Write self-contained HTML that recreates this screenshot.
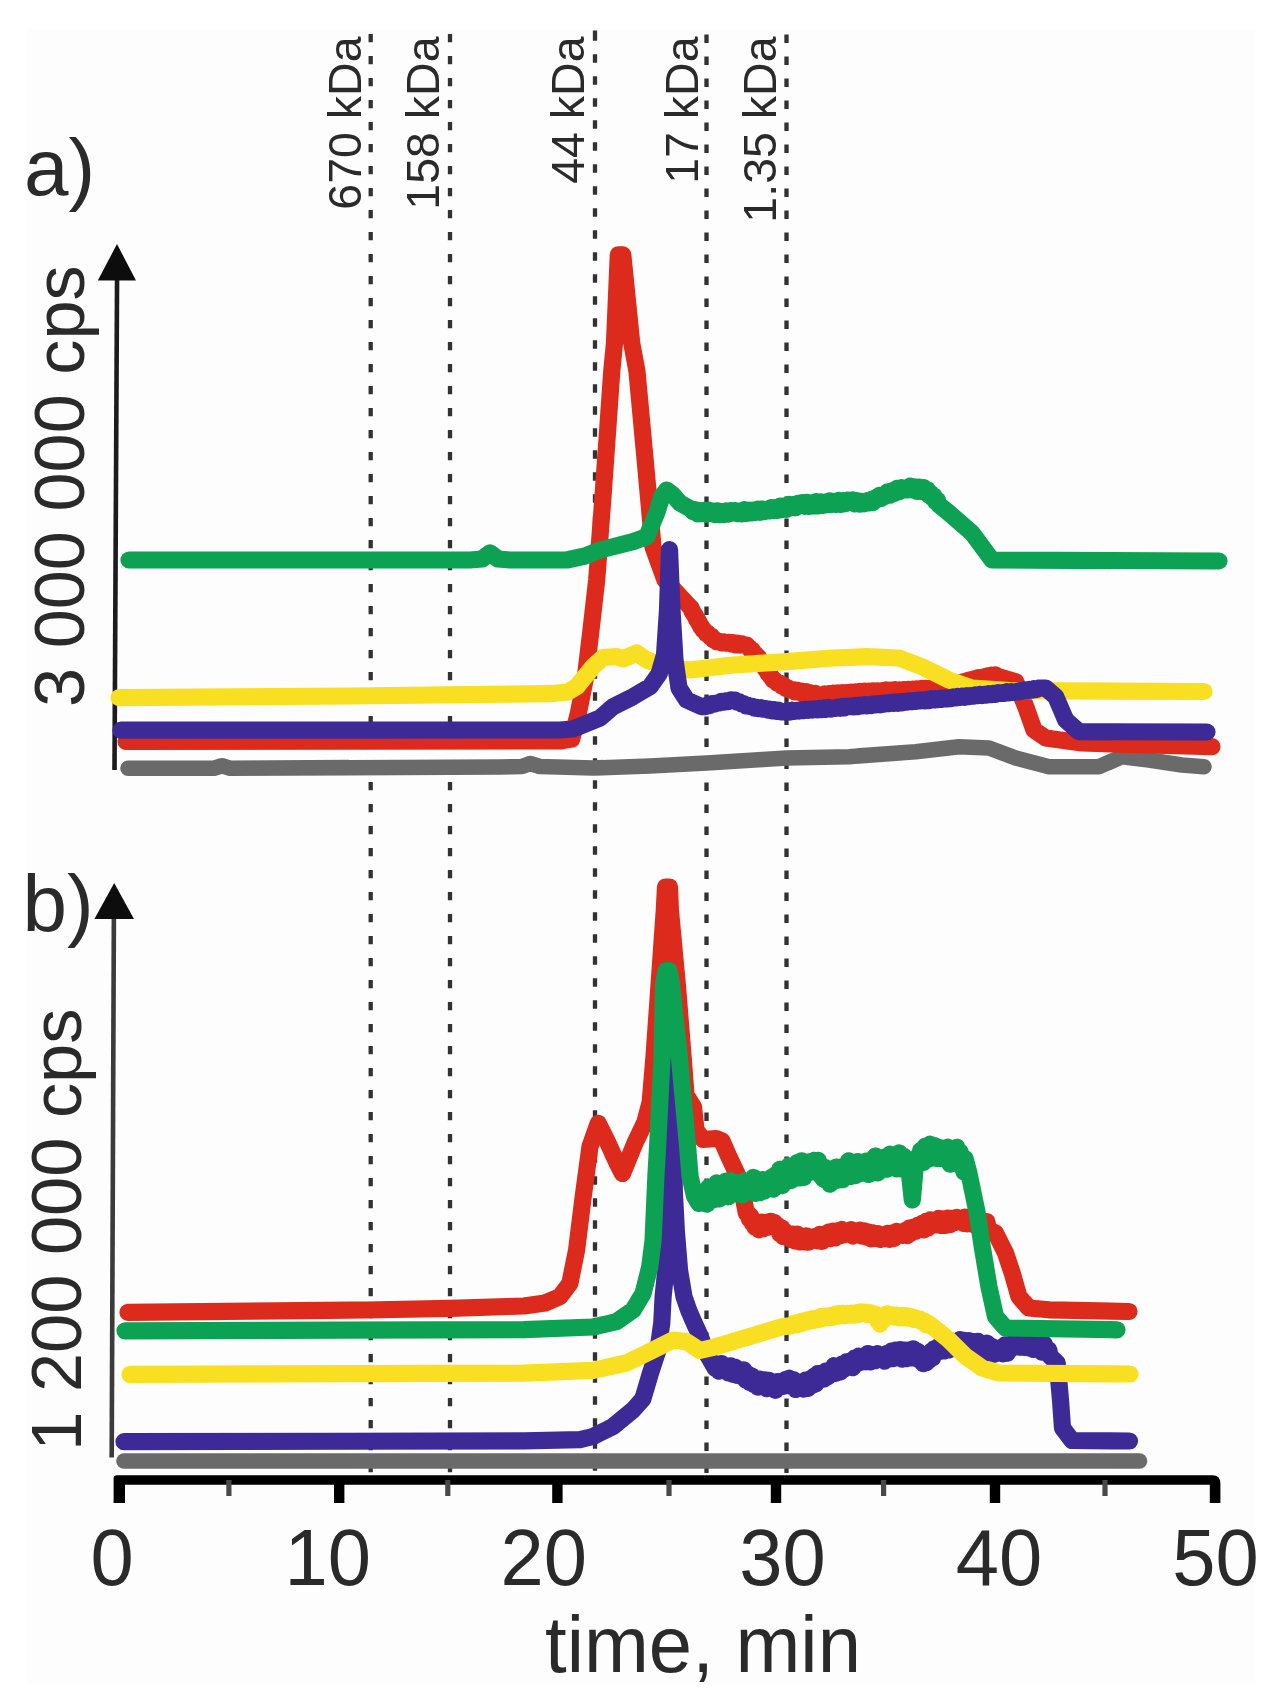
<!DOCTYPE html>
<html lang="en"><head><meta charset="utf-8"><title>SEC chromatograms</title>
<style>html,body{margin:0;padding:0;background:#fff}body{width:1273px;height:1695px;overflow:hidden}svg{display:block}</style>
</head><body>
<svg width="1273" height="1695" viewBox="0 0 1273 1695">
<rect width="1273" height="1695" fill="#fff"/>
<defs><filter id="soft" x="0" y="0" width="1273" height="1695" filterUnits="userSpaceOnUse"><feGaussianBlur stdDeviation="0.75"/></filter><clipPath id="crop"><rect x="27" y="29" width="1228.3" height="1654.5"/></clipPath></defs>
<rect x="27" y="29" width="1228.3" height="1654.5" fill="#fdfdfd"/>
<g id="figure" filter="url(#soft)">
<g id="dots"><path d="M370.7 33.9V42.3M370.7 55.9V64.3M370.7 77.9V86.3M370.7 99.9V108.3M370.7 121.9V130.3M370.7 143.9V152.3M370.7 165.9V174.3M370.7 187.9V196.3M370.7 209.9V218.3M370.7 231.9V240.3M370.7 253.9V262.3M370.7 275.9V284.3M370.7 297.9V306.3M370.7 319.9V328.3M370.7 341.9V350.3M370.7 363.9V372.3M370.7 385.9V394.3M370.7 407.9V416.3M370.7 429.9V438.3M370.7 451.9V460.3M370.7 473.9V482.3M370.7 495.9V504.3M370.7 517.9V526.3M370.7 539.9V548.3M370.7 561.9V570.3M370.7 583.9V592.3M370.7 605.9V614.3M370.7 627.9V636.3M370.7 649.9V658.3M370.7 671.9V680.3M370.7 693.9V702.3M370.7 715.9V724.3M370.7 737.9V746.3M370.7 759.9V768.3M370.7 781.9V790.3M370.7 803.9V812.3M370.7 825.9V834.3M370.7 847.9V856.3M370.7 869.9V878.3M370.7 891.9V900.3M370.7 913.9V922.3M370.7 935.9V944.3M370.7 957.9V966.3M370.7 979.9V988.3M370.7 1001.9V1010.3M370.7 1023.9V1032.3M370.7 1045.9V1054.3M370.7 1067.9V1076.3M370.7 1089.9V1098.3M370.7 1111.9V1120.3M370.7 1133.9V1142.3M370.7 1155.9V1164.3M370.7 1177.9V1186.3M370.7 1199.9V1208.3M370.7 1221.9V1230.3M370.7 1243.9V1252.3M370.7 1265.9V1274.3M370.7 1287.9V1296.3M370.7 1309.9V1318.3M370.7 1331.9V1340.3M370.7 1353.9V1362.3M370.7 1375.9V1384.3M370.7 1397.9V1406.3M370.7 1419.9V1428.3M370.7 1441.9V1450.3M370.7 1463.9V1472.3" stroke="#333" stroke-width="4.3" fill="none"/><path d="M450 33.9V42.3M450 55.9V64.3M450 77.9V86.3M450 99.9V108.3M450 121.9V130.3M450 143.9V152.3M450 165.9V174.3M450 187.9V196.3M450 209.9V218.3M450 231.9V240.3M450 253.9V262.3M450 275.9V284.3M450 297.9V306.3M450 319.9V328.3M450 341.9V350.3M450 363.9V372.3M450 385.9V394.3M450 407.9V416.3M450 429.9V438.3M450 451.9V460.3M450 473.9V482.3M450 495.9V504.3M450 517.9V526.3M450 539.9V548.3M450 561.9V570.3M450 583.9V592.3M450 605.9V614.3M450 627.9V636.3M450 649.9V658.3M450 671.9V680.3M450 693.9V702.3M450 715.9V724.3M450 737.9V746.3M450 759.9V768.3M450 781.9V790.3M450 803.9V812.3M450 825.9V834.3M450 847.9V856.3M450 869.9V878.3M450 891.9V900.3M450 913.9V922.3M450 935.9V944.3M450 957.9V966.3M450 979.9V988.3M450 1001.9V1010.3M450 1023.9V1032.3M450 1045.9V1054.3M450 1067.9V1076.3M450 1089.9V1098.3M450 1111.9V1120.3M450 1133.9V1142.3M450 1155.9V1164.3M450 1177.9V1186.3M450 1199.9V1208.3M450 1221.9V1230.3M450 1243.9V1252.3M450 1265.9V1274.3M450 1287.9V1296.3M450 1309.9V1318.3M450 1331.9V1340.3M450 1353.9V1362.3M450 1375.9V1384.3M450 1397.9V1406.3M450 1419.9V1428.3M450 1441.9V1450.3M450 1463.9V1472.3" stroke="#333" stroke-width="4.3" fill="none"/><path d="M595 30.6V40.7M595 54.3V62.7M595 76.3V84.7M595 98.3V106.7M595 120.3V128.7M595 142.3V150.7M595 164.3V172.7M595 186.3V194.7M595 208.3V216.7M595 230.3V238.7M595 252.3V260.7M595 274.3V282.7M595 296.3V304.7M595 318.3V326.7M595 340.3V348.7M595 362.3V370.7M595 384.3V392.7M595 406.3V414.7M595 428.3V436.7M595 450.3V458.7M595 472.3V480.7M595 494.3V502.7M595 516.3V524.7M595 538.3V546.7M595 560.3V568.7M595 582.3V590.7M595 604.3V612.7M595 626.3V634.7M595 648.3V656.7M595 670.3V678.7M595 692.3V700.7M595 714.3V722.7M595 736.3V744.7M595 758.3V766.7M595 780.3V788.7M595 802.3V810.7M595 824.3V832.7M595 846.3V854.7M595 868.3V876.7M595 890.3V898.7M595 912.3V920.7M595 934.3V942.7M595 956.3V964.7M595 978.3V986.7M595 1000.3V1008.7M595 1022.3V1030.7M595 1044.3V1052.7M595 1066.3V1074.7M595 1088.3V1096.7M595 1110.3V1118.7M595 1132.3V1140.7M595 1154.3V1162.7M595 1176.3V1184.7M595 1198.3V1206.7M595 1220.3V1228.7M595 1242.3V1250.7M595 1264.3V1272.7M595 1286.3V1294.7M595 1308.3V1316.7M595 1330.3V1338.7M595 1352.3V1360.7M595 1374.3V1382.7M595 1396.3V1404.7M595 1418.3V1426.7M595 1440.3V1448.7M595 1462.3V1470.7" stroke="#333" stroke-width="4.3" fill="none"/><path d="M706.5 34.6V43.0M706.5 56.6V65.0M706.5 78.6V87.0M706.5 100.6V109.0M706.5 122.6V131.0M706.5 144.6V153.0M706.5 166.6V175.0M706.5 188.6V197.0M706.5 210.6V219.0M706.5 232.6V241.0M706.5 254.6V263.0M706.5 276.6V285.0M706.5 298.6V307.0M706.5 320.6V329.0M706.5 342.6V351.0M706.5 364.6V373.0M706.5 386.6V395.0M706.5 408.6V417.0M706.5 430.6V439.0M706.5 452.6V461.0M706.5 474.6V483.0M706.5 496.6V505.0M706.5 518.6V527.0M706.5 540.6V549.0M706.5 562.6V571.0M706.5 584.6V593.0M706.5 606.6V615.0M706.5 628.6V637.0M706.5 650.6V659.0M706.5 672.6V681.0M706.5 694.6V703.0M706.5 716.6V725.0M706.5 738.6V747.0M706.5 760.6V769.0M706.5 782.6V791.0M706.5 804.6V813.0M706.5 826.6V835.0M706.5 848.6V857.0M706.5 870.6V879.0M706.5 892.6V901.0M706.5 914.6V923.0M706.5 936.6V945.0M706.5 958.6V967.0M706.5 980.6V989.0M706.5 1002.6V1011.0M706.5 1024.6V1033.0M706.5 1046.6V1055.0M706.5 1068.6V1077.0M706.5 1090.6V1099.0M706.5 1112.6V1121.0M706.5 1134.6V1143.0M706.5 1156.6V1165.0M706.5 1178.6V1187.0M706.5 1200.6V1209.0M706.5 1222.6V1231.0M706.5 1244.6V1253.0M706.5 1266.6V1275.0M706.5 1288.6V1297.0M706.5 1310.6V1319.0M706.5 1332.6V1341.0M706.5 1354.6V1363.0M706.5 1376.6V1385.0M706.5 1398.6V1407.0M706.5 1420.6V1429.0M706.5 1442.6V1451.0M706.5 1464.6V1473.0" stroke="#333" stroke-width="4.3" fill="none"/><path d="M786.5 34.6V43.0M786.5 56.6V65.0M786.5 78.6V87.0M786.5 100.6V109.0M786.5 122.6V131.0M786.5 144.6V153.0M786.5 166.6V175.0M786.5 188.6V197.0M786.5 210.6V219.0M786.5 232.6V241.0M786.5 254.6V263.0M786.5 276.6V285.0M786.5 298.6V307.0M786.5 320.6V329.0M786.5 342.6V351.0M786.5 364.6V373.0M786.5 386.6V395.0M786.5 408.6V417.0M786.5 430.6V439.0M786.5 452.6V461.0M786.5 474.6V483.0M786.5 496.6V505.0M786.5 518.6V527.0M786.5 540.6V549.0M786.5 562.6V571.0M786.5 584.6V593.0M786.5 606.6V615.0M786.5 628.6V637.0M786.5 650.6V659.0M786.5 672.6V681.0M786.5 694.6V703.0M786.5 716.6V725.0M786.5 738.6V747.0M786.5 760.6V769.0M786.5 782.6V791.0M786.5 804.6V813.0M786.5 826.6V835.0M786.5 848.6V857.0M786.5 870.6V879.0M786.5 892.6V901.0M786.5 914.6V923.0M786.5 936.6V945.0M786.5 958.6V967.0M786.5 980.6V989.0M786.5 1002.6V1011.0M786.5 1024.6V1033.0M786.5 1046.6V1055.0M786.5 1068.6V1077.0M786.5 1090.6V1099.0M786.5 1112.6V1121.0M786.5 1134.6V1143.0M786.5 1156.6V1165.0M786.5 1178.6V1187.0M786.5 1200.6V1209.0M786.5 1222.6V1231.0M786.5 1244.6V1253.0M786.5 1266.6V1275.0M786.5 1288.6V1297.0M786.5 1310.6V1319.0M786.5 1332.6V1341.0M786.5 1354.6V1363.0M786.5 1376.6V1385.0M786.5 1398.6V1407.0M786.5 1420.6V1429.0M786.5 1442.6V1451.0M786.5 1464.6V1473.0" stroke="#333" stroke-width="4.3" fill="none"/></g>
<g id="panel-a">
<line x1="117.1" y1="270" x2="114.5" y2="770" stroke="#1c1c1c" stroke-width="4.6"/>
<polygon points="117,244 97.8,280.5 136,280.5" fill="#111"/>
<polyline points="128.0,768.3 214.0,768.3 222.0,765.8 230.0,768.2 500.0,767.0 522.0,766.5 530.0,763.5 540.0,766.5 593.0,768.0 650.0,766.0 706.7,763.0 786.7,758.0 849.0,756.7 915.7,751.7 959.0,746.7 989.0,748.0 1015.7,758.0 1049.0,766.7 1099.0,766.7 1122.0,756.7 1149.0,760.0 1182.0,765.0 1204.0,766.7" fill="none" stroke="#6b6b6b" stroke-width="15.6" stroke-linecap="round" stroke-linejoin="round"/>
<polyline points="126.0,741.5 560.0,741.0 571.7,739.0 578.0,715.0 585.0,680.0 591.0,630.0 596.7,580.0 603.0,496.5 611.8,370.8 614.5,343.0 618.3,254.8 622.8,254.8 631.7,343.0 636.9,370.8 646.2,471.4 653.0,547.0 665.0,580.0 690.0,607.0 691.1,607.9 692.2,611.8 693.2,612.3 694.3,615.2 695.4,615.7 696.5,619.4 697.6,619.6 698.7,623.0 699.8,623.5 700.8,627.0 701.9,627.3 703.0,630.0 704.7,630.9 706.4,633.6 708.1,633.7 709.9,636.7 711.6,636.3 713.3,639.7 715.0,639.5 716.7,641.7 719.0,641.3 721.3,642.8 723.6,642.0 725.9,643.2 728.2,642.3 730.5,643.8 732.9,642.8 735.2,644.7 737.5,643.2 739.8,645.0 742.1,643.9 744.4,645.2 746.7,645.0 748.2,647.3 749.7,647.8 751.1,650.7 752.6,650.7 754.1,654.2 755.6,654.4 757.0,657.6 758.5,657.4 760.0,660.0 761.3,661.1 762.6,664.9 763.9,665.1 765.2,668.9 766.5,669.4 767.8,673.0 769.1,673.0 770.4,676.5 771.7,677.1 773.0,680.0 775.1,680.4 777.2,683.2 779.4,683.0 781.5,685.7 783.6,685.3 785.8,688.2 787.9,687.8 790.0,690.0 792.3,689.7 794.6,691.7 796.9,690.2 799.2,692.2 801.5,691.2 803.8,693.3 806.2,691.8 808.5,693.8 810.8,692.9 813.1,694.5 815.4,693.4 817.7,695.2 820.0,695.0 822.2,695.8 824.5,694.1 826.7,695.5 828.9,693.8 831.2,695.2 833.4,693.2 835.6,694.7 837.8,693.0 840.1,694.4 842.3,692.7 844.5,693.9 846.8,692.6 849.0,693.0 851.2,692.2 853.4,693.7 855.6,691.9 857.8,693.0 860.0,691.5 862.2,693.2 864.4,691.3 866.6,692.6 868.8,691.1 871.0,692.3 873.2,690.9 875.4,692.2 877.6,690.9 879.8,692.3 882.0,690.8 884.2,691.9 886.4,690.1 888.6,691.5 890.8,690.3 893.0,691.7 895.2,689.9 897.4,691.3 899.5,689.9 901.7,690.9 903.9,689.6 906.1,690.9 908.3,689.4 910.5,690.8 912.7,689.2 914.9,690.4 917.1,689.0 919.3,690.0 921.5,688.4 923.7,689.7 925.9,688.5 928.1,689.7 930.3,688.1 932.5,689.2 934.7,687.6 936.9,689.0 939.1,687.9 941.3,688.9 943.5,687.3 945.7,688.0 947.9,686.5 950.1,687.2 952.3,685.4 954.5,685.8 956.7,684.0 958.9,684.9 961.0,682.5 963.2,683.6 965.4,681.1 967.6,682.3 969.8,679.8 972.0,680.0 974.2,678.8 976.3,679.7 978.5,677.8 980.6,678.8 982.8,677.2 984.9,678.0 987.1,675.9 989.2,676.9 991.4,675.1 993.5,676.1 995.7,675.0 997.9,676.5 1015.7,681.7 1025.7,706.7 1034.0,730.0 1045.7,738.0 1082.0,743.0 1212.0,746.7" fill="none" stroke="#dc2a1e" stroke-width="17.2" stroke-linecap="round" stroke-linejoin="round"/>
<polyline points="129.0,560.0 470.0,560.0 482.0,559.0 490.0,553.0 498.0,559.0 510.0,560.0 566.7,560.0 585.0,556.0 600.0,550.0 633.0,541.7 646.7,536.7 656.7,513.0 662.0,496.0 666.7,490.0 672.0,494.0 680.0,503.0 691.1,509.2 693.0,511.7 695.2,509.6 697.4,513.9 699.7,510.5 701.9,513.7 704.1,510.4 706.3,514.1 708.6,510.1 710.8,513.5 713.0,511.2 715.2,514.6 717.4,510.8 719.7,514.7 721.9,511.6 724.1,514.4 726.3,510.8 728.6,514.2 730.8,510.6 733.0,513.0 735.2,510.5 737.5,513.7 739.7,511.3 742.0,514.0 744.2,509.7 746.5,513.4 748.7,510.2 751.0,513.0 753.2,510.1 755.5,512.4 757.7,509.1 760.0,512.3 762.2,509.0 764.5,511.6 766.7,510.0 768.9,511.0 771.1,507.6 773.4,510.5 775.6,507.6 777.8,510.5 780.0,506.2 782.2,509.6 784.5,506.0 786.7,509.4 788.9,504.5 791.1,507.6 793.3,504.5 795.6,507.7 797.8,503.3 800.0,505.0 802.3,502.5 804.5,506.3 806.8,502.4 809.1,506.4 811.4,502.8 813.6,506.0 815.9,501.7 818.2,506.0 820.5,501.9 822.7,505.4 825.0,502.2 827.3,504.6 829.5,500.9 831.8,504.5 834.1,501.4 836.4,504.4 838.6,500.4 840.9,504.3 843.2,500.6 845.5,503.7 847.7,500.1 850.0,501.7 852.4,499.8 854.8,503.8 857.1,500.6 859.5,504.1 861.9,501.4 864.2,503.8 866.6,500.8 869.0,503.0 871.0,499.5 873.0,502.6 875.0,498.0 877.0,499.7 879.0,495.5 881.0,498.5 883.0,495.0 885.3,496.4 887.5,491.8 889.8,495.1 892.1,490.8 894.4,493.3 896.6,488.5 898.9,491.9 901.2,487.7 903.4,490.1 905.7,488.0 907.9,490.0 910.1,486.1 912.4,489.8 914.6,486.8 916.8,491.3 919.0,487.1 921.3,491.6 923.5,487.6 925.7,490.0 927.4,489.9 929.0,495.1 930.7,493.3 932.4,497.7 934.0,496.0 935.7,501.7 937.4,500.2 939.0,504.9 949.0,513.0 972.0,533.0 992.0,560.0 1219.0,561.0" fill="none" stroke="#0ca152" stroke-width="17.2" stroke-linecap="round" stroke-linejoin="round"/>
<polyline points="119.0,697.6 350.0,696.0 550.0,693.7 568.0,692.0 576.7,686.7 593.0,666.7 603.0,657.5 616.7,656.7 623.0,659.0 636.7,653.0 646.7,660.0 670.0,668.0 690.0,670.0 733.0,665.0 786.7,661.7 833.0,658.0 866.7,656.7 899.0,658.0 922.0,666.7 949.0,680.0 972.0,688.0 1009.0,690.7 1204.0,691.5" fill="none" stroke="#f8df22" stroke-width="17.2" stroke-linecap="round" stroke-linejoin="round"/>
<polyline points="121.0,730.2 560.0,730.0 573.0,729.0 600.0,718.0 613.0,706.7 633.0,696.7 650.0,686.7 659.0,674.0 664.5,655.0 667.5,610.0 669.5,549.5 672.0,610.0 675.0,660.0 679.0,688.0 686.7,700.0 701.0,706.3 703.0,706.7 705.3,706.7 707.6,704.9 709.9,705.5 712.1,703.6 714.4,704.0 716.7,703.0 719.0,702.9 721.4,701.4 723.7,702.2 726.0,700.8 728.3,701.7 730.7,699.9 733.0,700.0 735.1,700.1 737.2,702.2 739.4,701.9 741.5,703.8 743.6,703.5 745.8,705.8 747.9,705.3 750.0,706.7 752.2,706.3 754.4,708.0 756.6,707.3 758.8,708.7 761.0,707.7 763.2,709.2 765.4,708.7 767.6,710.1 769.8,709.1 772.0,710.7 774.2,709.6 776.4,711.4 778.6,710.3 780.8,711.9 783.0,711.7 785.3,712.2 787.5,710.8 789.8,712.0 792.1,710.3 794.4,711.3 796.6,710.3 798.9,711.0 801.2,709.6 803.5,710.7 805.7,709.4 808.0,710.3 810.3,709.1 812.5,710.0 814.8,708.8 817.1,709.8 819.4,708.4 821.6,709.6 823.9,708.0 826.2,709.3 828.5,707.6 830.7,709.0 833.0,708.0 835.3,708.5 837.6,707.2 839.9,708.2 842.1,706.5 844.4,707.8 846.7,706.3 849.0,706.7 851.2,705.8 853.4,706.8 855.7,705.4 857.9,706.5 860.1,705.2 862.3,705.9 864.6,704.6 866.8,705.9 869.0,704.6 871.2,705.5 873.4,704.0 875.7,704.8 877.9,703.7 880.1,704.7 882.3,703.1 884.6,704.0 886.8,702.8 889.0,703.6 891.2,702.4 893.4,703.3 895.7,701.9 897.9,703.2 900.1,701.7 902.3,702.9 904.6,701.4 906.8,702.1 909.0,700.9 911.2,701.7 913.4,700.6 915.7,701.4 917.9,700.1 920.1,700.9 922.3,699.9 924.6,700.9 926.8,699.4 929.0,700.5 931.2,698.8 933.4,699.9 935.7,698.6 937.9,699.6 940.1,698.1 942.3,699.2 944.6,697.8 946.8,698.8 949.0,698.0 951.2,698.6 953.4,697.0 955.7,697.9 957.9,696.5 960.1,697.4 962.3,696.2 964.6,697.3 966.8,695.7 969.0,696.7 971.2,695.5 973.5,696.2 975.7,694.9 977.9,695.6 980.1,694.4 982.4,695.5 984.6,694.3 986.8,695.1 989.0,693.7 991.2,694.7 993.5,693.3 995.7,694.3 997.9,692.7 1000.1,693.5 1002.4,692.6 1004.6,693.4 1006.8,691.8 1009.0,692.8 1011.3,691.6 1013.5,692.5 1015.7,691.7 1018.0,691.9 1020.3,690.6 1022.6,691.3 1024.9,690.0 1027.2,690.9 1029.5,689.5 1031.9,690.2 1034.2,688.7 1036.5,689.5 1038.8,688.2 1045.7,688.0 1055.7,696.7 1065.7,720.0 1079.0,731.7 1207.0,732.0" fill="none" stroke="#3e2a97" stroke-width="17.2" stroke-linecap="round" stroke-linejoin="round"/>
</g>
<g id="panel-b">
<line x1="113.9" y1="910" x2="111.7" y2="1457.5" stroke="#3a3a3a" stroke-width="4.6"/>
<polygon points="114.2,883 94.4,919 134,919" fill="#111"/>
<polyline points="124.0,1461.0 1139.5,1461.0" fill="none" stroke="#6b6b6b" stroke-width="15.6" stroke-linecap="round" stroke-linejoin="round"/>
<polyline points="128.0,1312.3 366.0,1310.0 450.0,1308.3 524.0,1306.0 545.0,1303.0 559.9,1296.6 569.9,1283.3 576.6,1250.0 583.2,1196.6 590.0,1146.6 598.2,1123.3 606.6,1140.0 616.6,1162.0 622.5,1173.5 635.0,1143.0 645.0,1122.0 650.2,1102.0 653.9,1058.0 659.1,984.0 664.3,910.0 665.5,887.0 669.5,887.0 670.4,910.0 677.3,984.0 683.2,1058.0 686.0,1095.0 693.5,1107.0 696.0,1130.0 703.0,1139.5 716.0,1138.5 722.0,1141.0 728.1,1155.0 739.8,1180.0 746.4,1213.2 747.8,1212.8 749.3,1219.0 750.7,1216.2 752.1,1222.9 753.5,1220.8 755.0,1227.3 756.4,1226.5 758.8,1229.8 761.2,1222.0 763.6,1228.6 765.9,1222.3 768.3,1227.1 770.7,1221.3 773.1,1223.2 774.8,1222.7 776.4,1228.6 778.1,1225.9 779.8,1233.7 781.4,1227.9 783.1,1236.7 784.7,1231.3 786.4,1236.5 788.6,1234.6 790.9,1239.5 793.1,1234.2 795.3,1241.0 797.5,1234.2 799.8,1241.9 802.0,1236.5 804.2,1241.9 806.4,1235.8 808.6,1242.2 810.9,1237.4 813.1,1239.9 815.3,1236.5 817.5,1240.8 819.8,1234.4 822.0,1241.4 824.2,1234.1 826.4,1239.0 828.6,1232.2 830.9,1238.5 833.1,1231.1 835.3,1238.0 837.5,1230.8 839.7,1235.9 842.0,1229.5 844.2,1234.8 846.4,1231.5 848.6,1234.0 850.9,1229.7 853.1,1236.0 855.4,1230.9 857.6,1235.0 859.9,1230.2 862.1,1236.1 864.3,1231.0 866.6,1237.1 868.8,1232.1 871.1,1238.9 873.3,1233.0 875.6,1238.3 877.8,1233.6 880.1,1239.4 882.3,1236.5 884.7,1238.7 887.1,1233.5 889.5,1239.3 891.8,1233.1 894.2,1238.5 896.6,1231.4 899.0,1235.0 901.1,1232.2 903.2,1235.4 905.2,1230.4 907.3,1235.5 909.4,1228.1 911.5,1232.8 913.6,1227.2 915.6,1231.2 917.7,1225.4 919.8,1229.4 921.9,1223.4 924.0,1229.8 926.1,1221.3 928.1,1227.9 930.2,1219.8 932.3,1223.0 934.5,1220.9 936.7,1224.9 938.9,1218.3 941.2,1225.5 943.4,1219.0 945.6,1225.4 947.8,1218.1 950.0,1224.6 952.2,1218.3 954.5,1222.7 956.7,1217.5 958.9,1220.0 961.1,1218.2 963.2,1223.3 965.4,1217.1 967.6,1223.9 969.8,1219.8 972.0,1223.9 974.1,1220.2 976.3,1226.2 978.5,1220.4 980.6,1225.8 982.8,1221.7 985.0,1224.0 986.8,1221.5 988.5,1229.7 995.5,1233.0 1005.5,1253.0 1012.2,1273.0 1018.9,1296.5 1028.9,1308.0 1048.8,1309.8 1129.0,1311.5" fill="none" stroke="#dc2a1e" stroke-width="17.2" stroke-linecap="round" stroke-linejoin="round"/>
<polyline points="124.0,1441.7 524.0,1440.9 580.0,1439.6 593.0,1436.5 613.0,1426.5 633.0,1410.0 642.8,1399.0 650.0,1374.7 658.0,1350.0 661.8,1322.7 663.1,1296.8 665.7,1270.8 667.0,1200.0 669.5,1062.0 671.5,1062.0 674.4,1193.0 676.4,1232.0 679.6,1270.8 684.0,1296.8 688.5,1309.8 694.0,1322.7 700.0,1335.7 706.4,1353.0 715.3,1368.6 716.8,1366.0 719.1,1371.1 721.4,1363.5 723.7,1370.6 726.0,1366.0 728.2,1372.9 730.5,1365.8 732.8,1374.3 735.1,1367.2 737.4,1375.4 739.7,1371.6 741.7,1376.0 743.7,1370.0 745.7,1380.1 747.7,1373.9 749.7,1382.5 751.7,1376.0 753.7,1384.4 755.7,1383.0 757.9,1387.1 760.1,1379.2 762.2,1386.9 764.4,1379.8 766.6,1388.7 768.8,1380.3 771.0,1388.4 773.2,1383.0 775.3,1390.3 777.5,1381.7 779.7,1386.5 781.5,1381.7 783.4,1386.3 785.2,1379.6 787.0,1381.0 789.1,1378.2 791.2,1386.4 793.4,1379.6 795.5,1389.5 797.6,1384.0 799.7,1388.0 801.7,1382.9 803.7,1389.1 805.7,1380.0 807.7,1388.5 809.7,1379.0 811.7,1385.6 813.7,1376.4 815.7,1383.9 817.7,1373.5 819.7,1379.7 821.7,1373.0 823.7,1379.1 825.7,1371.0 827.7,1376.9 829.7,1372.0 831.8,1373.7 833.9,1365.7 835.9,1373.3 838.0,1366.2 840.1,1372.0 842.2,1364.0 844.3,1369.1 846.4,1361.9 848.4,1367.3 850.5,1361.0 852.6,1367.7 854.7,1358.1 856.8,1363.7 858.8,1356.2 860.9,1362.1 863.0,1359.0 865.4,1361.8 867.8,1353.6 870.2,1362.0 872.6,1354.6 875.1,1360.7 877.5,1353.7 879.9,1359.3 882.3,1356.4 884.5,1361.2 886.7,1353.5 889.0,1359.1 891.2,1351.2 893.4,1358.6 895.6,1350.1 897.8,1357.7 900.1,1349.6 902.3,1359.1 904.5,1350.0 906.7,1358.6 908.9,1350.2 911.2,1358.0 913.4,1348.8 915.6,1353.0 917.5,1351.1 919.4,1360.1 921.2,1354.2 923.1,1363.6 925.0,1362.0 926.5,1362.7 928.0,1354.2 929.5,1359.8 931.1,1351.4 932.6,1357.7 934.1,1348.8 935.6,1349.8 937.8,1346.9 940.0,1351.3 942.2,1344.2 944.5,1350.8 946.7,1344.0 948.9,1349.9 951.1,1341.0 953.3,1348.2 955.6,1341.3 957.8,1348.8 960.0,1339.6 962.2,1343.0 964.4,1340.4 966.6,1347.3 968.9,1340.6 971.1,1347.2 973.3,1341.7 975.5,1348.4 977.8,1341.3 980.0,1349.3 982.2,1346.5 984.6,1351.3 987.0,1343.2 989.4,1353.6 991.7,1346.4 994.1,1354.3 996.5,1348.1 998.9,1352.0 1001.0,1347.8 1003.0,1353.8 1005.1,1344.9 1007.2,1353.2 1009.3,1344.5 1011.4,1348.9 1013.4,1342.2 1015.5,1344.8 1017.7,1342.4 1019.9,1347.1 1022.2,1340.4 1024.4,1347.4 1026.6,1340.6 1028.8,1348.0 1031.1,1340.0 1033.3,1349.4 1035.5,1344.8 1037.7,1348.1 1039.9,1343.7 1042.2,1352.2 1044.4,1344.2 1046.6,1352.4 1048.8,1349.8 1050.0,1356.1 1057.2,1363.0 1060.5,1400.0 1062.5,1428.0 1072.0,1440.5 1129.5,1441.0" fill="none" stroke="#3e2a97" stroke-width="17.2" stroke-linecap="round" stroke-linejoin="round"/>
<polyline points="125.0,1330.8 524.0,1329.6 593.2,1327.0 616.5,1321.6 633.1,1310.0 643.1,1293.3 649.8,1266.6 653.1,1240.0 655.9,1176.0 657.6,1146.5 662.0,1058.0 663.5,984.0 666.0,970.6 669.0,970.6 671.4,984.0 679.5,1058.0 687.6,1146.5 690.0,1176.0 694.5,1196.0 699.0,1203.5 705.0,1199.0 706.8,1204.1 708.5,1187.3 710.2,1201.0 712.0,1191.0 714.3,1199.5 716.7,1182.9 719.0,1199.0 721.3,1186.0 723.7,1196.3 726.0,1181.0 728.3,1196.8 730.7,1180.8 733.0,1193.7 735.3,1182.5 737.7,1194.0 740.0,1188.5 742.2,1194.8 744.4,1180.8 746.6,1191.4 748.8,1181.7 751.0,1191.9 753.2,1177.4 755.4,1193.4 757.6,1180.3 759.8,1192.7 762.0,1179.6 764.2,1191.0 766.4,1183.5 768.6,1187.3 770.8,1177.7 773.1,1189.2 775.3,1174.9 777.5,1184.2 779.7,1169.3 782.0,1185.6 784.2,1170.9 786.4,1175.5 788.5,1165.9 790.7,1180.6 792.8,1165.6 795.0,1177.3 797.1,1162.7 799.3,1178.0 801.4,1160.9 803.5,1177.4 805.7,1162.6 807.8,1173.1 810.0,1161.6 812.1,1170.4 814.3,1160.4 816.4,1164.0 818.1,1160.3 819.7,1174.7 821.4,1165.5 823.0,1178.8 824.7,1167.6 826.3,1180.7 828.0,1177.0 830.0,1184.2 832.1,1168.8 834.1,1179.9 836.2,1167.0 838.2,1180.1 840.3,1167.3 842.3,1179.7 844.4,1165.7 846.4,1169.0 848.6,1160.9 850.8,1176.6 853.1,1163.9 855.3,1175.6 857.5,1161.5 859.7,1173.9 861.9,1162.6 864.2,1170.6 866.4,1161.1 868.6,1174.4 870.8,1160.3 873.0,1172.8 875.3,1156.0 877.5,1173.0 879.7,1164.0 882.2,1169.3 884.7,1157.2 887.3,1169.2 889.8,1154.2 892.3,1161.6 894.5,1156.8 896.8,1168.9 899.0,1152.9 901.3,1169.0 903.5,1156.2 905.8,1169.0 908.0,1160.0 912.3,1200.0 916.0,1158.0 918.3,1161.6 920.7,1150.5 923.0,1162.5 925.3,1146.0 927.6,1159.4 930.0,1144.2 932.3,1152.0 934.5,1145.6 936.7,1158.4 938.9,1147.5 941.2,1158.5 943.4,1149.5 945.6,1159.1 947.8,1147.2 950.0,1164.1 952.2,1150.6 954.5,1160.1 956.7,1147.3 958.9,1156.6 960.1,1152.0 961.4,1166.8 962.6,1157.5 963.9,1171.8 965.1,1158.7 968.9,1173.0 977.2,1213.0 982.2,1246.5 988.9,1286.5 995.5,1316.5 1005.5,1328.0 1117.0,1329.8" fill="none" stroke="#0ca152" stroke-width="17.2" stroke-linecap="round" stroke-linejoin="round"/>
<polyline points="130.0,1374.3 524.0,1373.2 593.2,1370.3 626.5,1363.0 653.1,1350.0 673.1,1340.0 686.4,1341.6 699.8,1350.5 716.4,1346.6 749.7,1336.6 783.0,1326.6 791.9,1325.6 794.1,1323.2 796.3,1324.9 798.6,1322.3 800.8,1323.8 803.0,1321.0 805.2,1322.3 807.5,1319.9 809.7,1321.3 811.9,1318.9 814.1,1320.3 816.4,1318.2 818.6,1319.6 820.8,1316.6 823.0,1318.3 825.3,1316.1 827.5,1317.8 829.7,1316.0 831.9,1317.4 834.1,1314.4 836.4,1316.5 838.6,1313.6 840.8,1315.8 843.0,1313.3 845.2,1315.6 847.5,1313.6 849.7,1315.0 851.9,1313.0 854.1,1315.2 856.3,1312.7 858.6,1314.6 860.8,1311.9 863.0,1313.0 865.4,1312.2 867.8,1314.6 870.2,1312.8 872.6,1314.6 875.0,1314.0 876.0,1316.9 877.0,1316.7 878.0,1321.1 879.0,1321.0 880.0,1324.0 881.2,1320.5 882.5,1320.6 883.8,1316.3 885.0,1315.0 887.4,1313.8 889.7,1316.8 892.1,1314.8 894.4,1317.1 896.8,1315.0 899.1,1317.9 901.5,1315.3 903.8,1317.8 906.2,1315.5 908.5,1318.1 910.9,1316.5 913.2,1319.2 915.6,1318.0 917.7,1319.9 919.8,1319.0 921.9,1321.9 924.0,1320.9 926.0,1324.7 928.1,1323.2 932.3,1326.5 948.9,1339.8 965.6,1356.4 982.2,1368.0 998.9,1373.0 1130.0,1374.0" fill="none" stroke="#f8df22" stroke-width="17.2" stroke-linecap="round" stroke-linejoin="round"/>
</g>
<g id="xaxis">
<path d="M113.6 1503V1478.4Q113.6 1475.2 117 1475.2H1212.5Q1220.4 1475.2 1220.4 1483.5V1503H1209.8V1484.8H125V1503Z" fill="#000"/>
<rect x="334.0" y="1480" width="10.4" height="23" fill="#000"/><rect x="552.2" y="1480" width="10.4" height="23" fill="#000"/><rect x="770.8" y="1480" width="10.4" height="23" fill="#000"/><rect x="989.8" y="1480" width="10.4" height="23" fill="#000"/><rect x="226.3" y="1480" width="5.2" height="16" fill="#4a4a4a"/><rect x="445.2" y="1480" width="5.2" height="16" fill="#4a4a4a"/><rect x="666.4" y="1480" width="5.2" height="16" fill="#4a4a4a"/><rect x="881.0" y="1480" width="5.2" height="16" fill="#4a4a4a"/><rect x="1102.4" y="1480" width="5.2" height="16" fill="#4a4a4a"/>
</g>
<g id="labels" clip-path="url(#crop)">
<text transform="translate(361.3,36.5) rotate(-90)" text-anchor="end" font-size="46.5" fill="#2b2b2b" font-family="Liberation Sans, Arial, sans-serif">670 kDa</text><text transform="translate(438.9,36.5) rotate(-90)" text-anchor="end" font-size="46.5" fill="#2b2b2b" font-family="Liberation Sans, Arial, sans-serif">158 kDa</text><text transform="translate(583.9,36.5) rotate(-90)" text-anchor="end" font-size="46.5" fill="#2b2b2b" font-family="Liberation Sans, Arial, sans-serif">44 kDa</text><text transform="translate(698.3,36.5) rotate(-90)" text-anchor="end" font-size="46.5" fill="#2b2b2b" font-family="Liberation Sans, Arial, sans-serif">17 kDa</text><text transform="translate(775.9,36.5) rotate(-90)" text-anchor="end" font-size="46.5" fill="#2b2b2b" font-family="Liberation Sans, Arial, sans-serif">1.35 kDa</text>
<text transform="translate(90.4,1585) scale(0.972,1)" font-size="80" fill="#2b2b2b" font-family="Liberation Sans, Arial, sans-serif">0</text><text transform="translate(284.5,1585) scale(0.972,1)" font-size="80" fill="#2b2b2b" font-family="Liberation Sans, Arial, sans-serif">10</text><text transform="translate(500.6,1585) scale(0.972,1)" font-size="80" fill="#2b2b2b" font-family="Liberation Sans, Arial, sans-serif">20</text><text transform="translate(739.3,1585) scale(0.972,1)" font-size="80" fill="#2b2b2b" font-family="Liberation Sans, Arial, sans-serif">30</text><text transform="translate(955.8,1585) scale(0.972,1)" font-size="80" fill="#2b2b2b" font-family="Liberation Sans, Arial, sans-serif">40</text><text transform="translate(1172.3,1585) scale(0.972,1)" font-size="80" fill="#2b2b2b" font-family="Liberation Sans, Arial, sans-serif">50</text>
<text x="24" y="194.5" font-size="80" fill="#2b2b2b" font-family="Liberation Sans, Arial, sans-serif">a)</text>
<text x="22.5" y="930.5" font-size="80" fill="#2b2b2b" font-family="Liberation Sans, Arial, sans-serif">b)</text>
<text transform="translate(84.2,707) rotate(-90)" font-size="70.3" fill="#2b2b2b" font-family="Liberation Sans, Arial, sans-serif">3 000 000 cps</text>
<text transform="translate(81,1450.8) rotate(-90)" font-size="70.4" fill="#2b2b2b" font-family="Liberation Sans, Arial, sans-serif">1 200 000 cps</text>
<text transform="translate(545,1672) scale(0.974,1)" font-size="80" fill="#2b2b2b" font-family="Liberation Sans, Arial, sans-serif">time, min</text>
</g>
</g>
</svg>
</body></html>
